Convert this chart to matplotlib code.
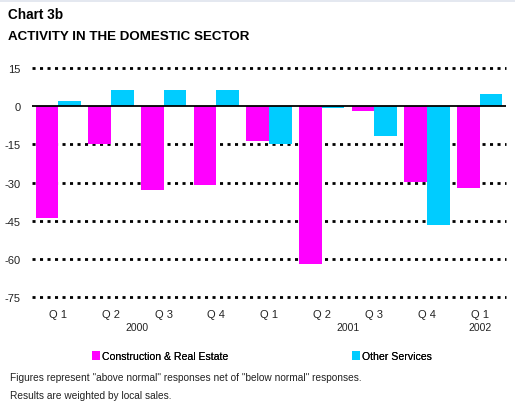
import numpy as np
import matplotlib as mpl

mpl.use('agg')

import matplotlib.pyplot as plt
import matplotlib.transforms as mtransforms
from matplotlib.patches import Rectangle

plt.rcParams['font.family'] = ['Liberation Sans', 'DejaVu Sans']

## data
quarters = ['Q 1', 'Q 2', 'Q 3', 'Q 4', 'Q 1', 'Q 2', 'Q 3', 'Q 4', 'Q 1']
years = ['2000', '2001', '2002']
year_pos = [1.5, 5.5, 8]          # where each year label sits under the quarters
construction = [-44, -15, -33, -31, -13.7, -62, -2, -29.7, -32]
other_services = [2, 6.5, 6.5, 6.5, -14.7, -0.8, -11.7, -46.6, 4.6]
yticks = [15, 0, -15, -30, -45, -60, -75]

magenta = '#FF00FF'
cyan = '#00CCFF'

fig = plt.figure(figsize=(5.15, 4.14), dpi=100)
fig.patches.append(Rectangle((0, 1 - 2.5 / 414), 1, 2.5 / 414, transform=fig.transFigure,
                             facecolor='#E4E8F0', edgecolor='none'))

ax = fig.add_axes([32 / 515, 1 - 298 / 414, 474 / 515, 229 / 414])

x = np.arange(len(quarters))
w = 0.43
ax.bar(x - w / 2, construction, w, color=magenta, label='Construction & Real Estate', zorder=3)
ax.bar(x + w / 2, other_services, w, color=cyan, label='Other Services', zorder=3)

## dotted gridlines behind the bars, solid zero line in front
for y in yticks:
    if y != 0:
        ax.axhline(y, color='black', lw=2, linestyle=(0, (1.1, 1.6)), zorder=1, clip_on=False)
ax.axhline(0, color='black', lw=1.3, zorder=4)

ax.set_xlim(-0.5, len(quarters) - 0.5)
ax.set_ylim(-75, 15)
ax.set_yticks(yticks)
ax.set_yticklabels([str(v) for v in yticks], fontsize=8, color='#222222')
ax.set_xticks(x)
ax.set_xticklabels(quarters, fontsize=8, color='#222222')
ax.tick_params(axis='both', length=0)
ax.tick_params(axis='x', pad=9)
ax.tick_params(axis='y', pad=8)
for s in ax.spines.values():
    s.set_visible(False)

trans = mtransforms.blended_transform_factory(ax.transData, fig.transFigure)
for yr, p in zip(years, year_pos):
    ax.text(p, 1 - 328 / 414, yr, transform=trans, ha='center', va='center',
            fontsize=7.5, color='#222222')

## legend, one entry each so they can sit where the reference has them
handles, labels = ax.get_legend_handles_labels()
for h, l, xpos in zip(handles, labels, [92 / 515, 352 / 515]):
    leg = fig.legend([h], [l], loc='center left', bbox_to_anchor=(xpos, 1 - 357 / 414),
                     frameon=False, fontsize=7.6, handlelength=0.8, handleheight=1.0,
                     handletextpad=0.15, borderpad=0, borderaxespad=0)
    fig.add_artist(leg)

fig.text(8 / 515, 1 - 15 / 414, 'Chart 3b', fontsize=9.8, fontweight='bold', va='center')
fig.text(8 / 515, 1 - 37 / 414, 'ACTIVITY IN THE DOMESTIC SECTOR', fontsize=9.6,
         fontweight='bold', va='center')
fig.text(10 / 515, 1 - 378 / 414,
         'Figures represent "above normal" responses net of "below normal" responses.',
         fontsize=7.3, va='center', color='#222222')
fig.text(10 / 515, 1 - 396 / 414, 'Results are weighted by local sales.',
         fontsize=7.3, va='center', color='#222222')

fig.savefig('out.png', dpi=100)
